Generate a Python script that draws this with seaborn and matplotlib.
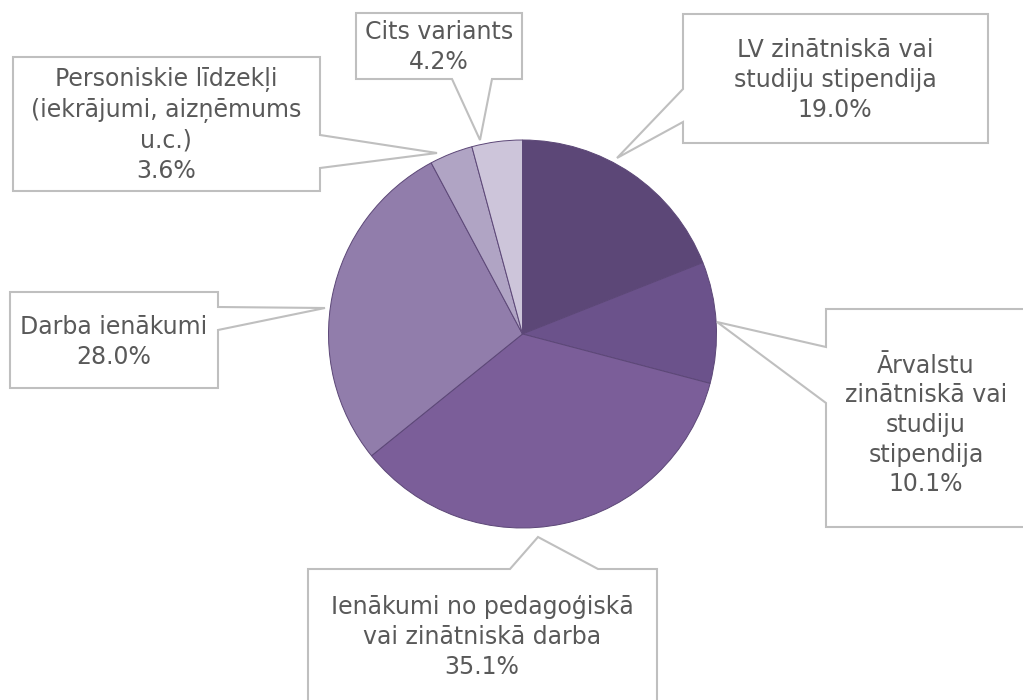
import numpy as np
import matplotlib
matplotlib.use("Agg")
import matplotlib.pyplot as plt
from matplotlib.patches import Polygon
import seaborn as sns

# data
labels = [
    "LV zinātniskā vai\nstudiju stipendija",
    "Ārvalstu\nzinātniskā vai\nstudiju\nstipendija",
    "Ienākumi no pedagoģiskā\nvai zinātniskā darba",
    "Darba ienākumi",
    "Personiskie līdzekļi\n(iekrājumi, aizņēmums\nu.c.)",
    "Cits variants",
]
shares = [19.0, 10.1, 35.1, 28.0, 3.6, 4.2]

colors = ["#5c4777", "#6b528b", "#7b5e99", "#917dab", "#b0a4c4", "#cdc5da"]

# callout layout in pixel coords (y from top): box, side, pointer base, tip, text centre
callouts = [
    dict(box=(683, 14, 988, 143), side="left", base=(89, 122), tip=(617, 158), text=(835, 80)),
    dict(box=(826, 309, 1030, 527), side="left", base=(347, 403), tip=(717, 322), text=(926, 425)),
    dict(box=(308, 569, 657, 710), side="top", base=(510, 598), tip=(538, 537), text=(482, 637)),
    dict(box=(10, 292, 218, 388), side="right", base=(307, 330), tip=(325, 308), text=(114, 342)),
    dict(box=(13, 57, 320, 191), side="right", base=(135, 168), tip=(437, 153), text=(166, 125)),
    dict(box=(356, 13, 522, 79), side="bottom", base=(452, 492), tip=(480, 140), text=(439, 47)),
]

W, H = 1023, 700
sns.set_theme(style="white")
plt.rcParams["font.family"] = ["DejaVu Sans"]

fig = plt.figure(figsize=(W / 100, H / 100), dpi=100)
ax = fig.add_axes([0, 0, 1, 1])

ax.pie(shares, colors=colors, startangle=90, counterclock=False,
       center=(522.5, H - 334), radius=194,
       wedgeprops=dict(edgecolor="#5c4777", linewidth=0.7))


def flip(p):
    return (p[0], H - p[1])


def callout_shape(c):
    l, t, r, b = c["box"]
    b0, b1 = c["base"]
    tip = c["tip"]
    s = c["side"]
    pts = [(l, t)]
    if s == "top":
        pts += [(b0, t), tip, (b1, t)]
    pts += [(r, t)]
    if s == "right":
        pts += [(r, b0), tip, (r, b1)]
    pts += [(r, b)]
    if s == "bottom":
        pts += [(b1, b), tip, (b0, b)]
    pts += [(l, b)]
    if s == "left":
        pts += [(l, b1), tip, (l, b0)]
    return [flip(p) for p in pts]


for lab, val, c in zip(labels, shares, callouts):
    poly = Polygon(callout_shape(c), closed=True, facecolor="white",
                   edgecolor="#bfbfbf", linewidth=1.5, zorder=5)
    ax.add_patch(poly)
    tx, ty = flip(c["text"])
    ax.text(tx, ty, f"{lab}\n{val:.1f}%", ha="center", va="center",
            fontsize=17, color="#595959", linespacing=1.3, zorder=6)

ax.set_xlim(0, W)
ax.set_ylim(0, H)
ax.set_aspect("equal")
ax.axis("off")

fig.savefig("out.png", dpi=100, facecolor="white")
